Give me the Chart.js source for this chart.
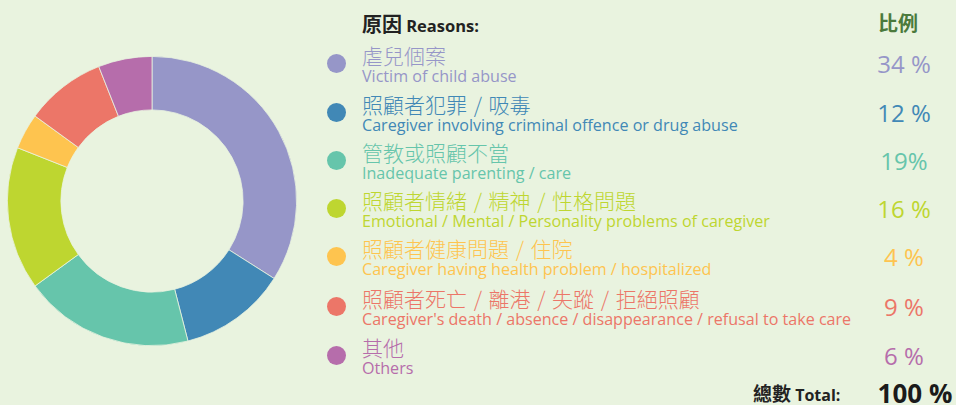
<!DOCTYPE html>
<html lang="zh-Hant">
<head>
<meta charset="UTF-8">
<title>原因 Reasons</title>
<script src="https://cdn.jsdelivr.net/npm/chart.js"></script>
<style>
  body { margin: 0; background: #e9f3df; font-family: "Open Sans", "Noto Sans CJK TC", sans-serif; }
  #wrap { position: relative; width: 956px; height: 405px; overflow: hidden; }
  #chartBox { position: absolute; left: 7px; top: 56px; width: 290px; height: 290px; }
  .head { position: absolute; font-weight: bold; color: #222; white-space: nowrap; }
  .dot { position: absolute; width: 19px; height: 19px; border-radius: 50%; }
  .item { position: absolute; left: 362px; white-space: nowrap; }
  .zh { font-family: "Noto Sans CJK TC", sans-serif; font-weight: 300; font-size: 21px; line-height: 23px; word-spacing: 2px; }
  .en { font-size: 16.1px; line-height: 18px; }
  .pct { position: absolute; left: 854px; width: 100px; text-align: center; font-size: 24px; line-height: 26px; }
</style>
</head>
<body>
<div id="wrap">
  <div id="chartBox"><canvas id="reasonChart" width="290" height="290"></canvas></div>
  <div class="head" style="left:362px; top:9px;"><span style="font-family:'Noto Sans CJK TC'; font-size:20px;">原因</span> <span style="font-size:16.5px;">Reasons:</span></div>
  <div class="head" style="left:878px; top:8px; color:#4b7a3c; font-family:'Noto Sans CJK TC'; font-size:20px;">比例</div>
  <div id="legend"></div>
  <div class="head" style="left:753px; top:379px;"><span style="font-family:'Noto Sans CJK TC'; font-size:19px;">總數</span> <span style="font-size:16px;">Total:</span></div>
  <div class="head" style="left:865px; top:375px; width:100px; text-align:center; font-size:26px; color:#1a1a1a;">100 %</div>
</div>
<script>
const labelsZh = ['虐兒個案', '照顧者犯罪 / 吸毒', '管教或照顧不當', '照顧者情緒 / 精神 / 性格問題', '照顧者健康問題 / 住院', '照顧者死亡 / 離港 / 失蹤 / 拒絕照顧', '其他'];
const labelsEn = ['Victim of child abuse', 'Caregiver involving criminal offence or drug abuse', 'Inadequate parenting / care', 'Emotional / Mental / Personality problems of caregiver', 'Caregiver having health problem / hospitalized', "Caregiver's death / absence / disappearance / refusal to take care", 'Others'];
const values = [34, 12, 19, 16, 4, 9, 6];
const pctLabels = ['34 %', '12 %', '19%', '16 %', '4 %', '9 %', '6 %'];
const colors = ['#9696c8', '#4188b6', '#66c5ab', '#bed630', '#fec44f', '#ec7668', '#b66dab'];

// legend rows
const dotY = [63, 112, 160, 208, 256, 306, 355];
const legend = document.getElementById('legend');
labelsZh.forEach((zh, i) => {
    const y = dotY[i];
    legend.insertAdjacentHTML('beforeend',
        '<div class="dot" style="left:327px; top:' + (y - 9.5) + 'px; background:' + colors[i] + ';"></div>' +
        '<div class="item" style="top:' + (y - 19) + 'px; color:' + colors[i] + ';">' +
        '<div class="zh">' + zh + '</div><div class="en">' + labelsEn[i] + '</div></div>' +
        '<div class="pct" style="top:' + (y - 12) + 'px; color:' + colors[i] + ';">' + pctLabels[i] + '</div>');
});

new Chart(document.getElementById('reasonChart'), {
    type: 'doughnut',
    data: {
        labels: labelsEn,
        datasets: [{
            data: values,
            backgroundColor: colors,
            borderColor: '#e9f3df',
            borderWidth: 0.8
        }]
    },
    options: {
        responsive: false,
        animation: false,
        cutout: '63%',
        plugins: {
            legend: { display: false },
            tooltip: { enabled: false }
        }
    }
});
</script>
</body>
</html>
